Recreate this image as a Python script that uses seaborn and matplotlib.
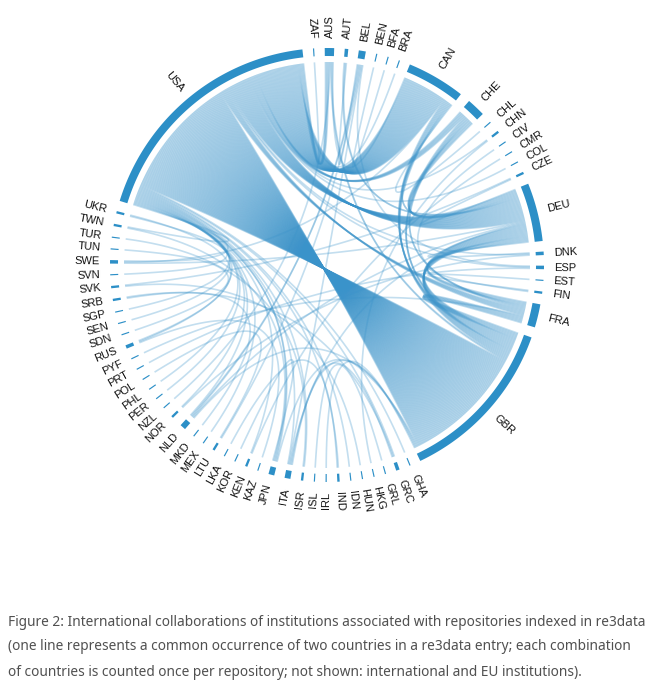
import numpy as np
import matplotlib
matplotlib.use("Agg")
import matplotlib.pyplot as plt
from matplotlib.collections import LineCollection
import seaborn as sns

# countries in drawing order (clockwise, starting near the top)
countries = ["AUS", "AUT", "BEL", "BEN", "BFA", "BRA", "CAN", "CHE", "CHL", "CHN", "CIV", "CMR",
             "COL", "CZE", "DEU", "DNK", "ESP", "EST", "FIN", "FRA", "GBR", "GHA", "GRC", "GRL",
             "HKG", "HUN", "IDN", "IND", "IRL", "ISL", "ISR", "ITA", "JPN", "KAZ", "KEN", "KOR",
             "LKA", "LTU", "MEX", "MKD", "NLD", "NOR", "NZL", "PER", "PHL", "POL", "PRT", "PYF",
             "RUS", "SDN", "SEN", "SGP", "SRB", "SVK", "SVN", "SWE", "TUN", "TUR", "TWN", "UKR",
             "USA", "ZAF"]

# co-occurrence counts
usa_to = ["GBR", "CAN", "DEU", "CHE", "FRA", "AUS", "JPN", "ITA", "NLD", "ISR", "IND", "KEN",
          "MEX", "BRA", "CHN", "TWN", "RUS", "ZAF", "SWE", "NOR", "GRC", "ESP", "DNK", "PER",
          "COL", "SEN", "GHA", "PHL", "IDN", "SGP"]
usa_n = [112, 39, 20, 6, 6, 4, 2] + [1] * 23

gbr_to = ["DEU", "FRA", "CAN", "CHE", "AUS", "ITA", "NLD", "JPN", "IRL"]
gbr_n = [11, 6, 6, 3, 2, 1, 1, 1, 1]

other_a = ["CAN", "CAN", "CAN", "CAN", "DEU", "DEU", "DEU", "DEU", "DEU", "DEU", "DEU", "DEU",
           "DEU", "FRA", "FRA", "FRA", "AUS", "BEL", "BEL", "BEL", "BEL", "BEL", "BEN", "CHN",
           "CMR", "CZE", "DNK", "ESP", "EST", "GRC", "GRC", "GRL", "HUN", "IND", "ISR", "JPN",
           "JPN", "KAZ", "LTU", "MKD", "RUS", "SDN", "SVN"]
other_b = ["DEU", "AUS", "CHL", "SWE", "CHE", "FRA", "AUT", "NLD", "ITA", "DNK", "SWE", "FIN",
           "CZE", "CHE", "CIV", "PYF", "NZL", "NLD", "LTU", "ESP", "ITA", "AUT", "BFA", "HKG",
           "KEN", "SVK", "NOR", "PRT", "FIN", "ITA", "SRB", "ISL", "SVK", "LKA", "TUR", "KOR",
           "TWN", "RUS", "POL", "SRB", "UKR", "TUN", "UKR"]
other_n = [2, 1, 1, 1, 5, 4, 2, 1, 1, 1, 1, 1,
           1, 2, 1, 1, 1, 2, 1, 1, 1, 1, 1, 1,
           1, 1, 1, 1, 1, 1, 1, 1, 1, 1, 1, 1,
           1, 1, 1, 1, 1, 1, 1]

link_a = ["USA"] * len(usa_to) + ["GBR"] * len(gbr_to) + other_a
link_b = usa_to + gbr_to + other_b
link_n = usa_n + gbr_n + other_n

sns.set_theme(style="white")
plt.rcParams["font.family"] = ["Liberation Sans", "DejaVu Sans"]

ring_col = "#2c8fc7"
line_col = "#3a93ca"

n = len(countries)
idx = {c: i for i, c in enumerate(countries)}
links = [(idx[a], idx[b], w) for a, b, w in zip(link_a, link_b, link_n)]
deg = np.zeros(n)
for i, j, w in links:
    deg[i] += w
    deg[j] += w

gap = 2.8
unit = (360 - n * gap) / deg.sum()
start = np.zeros(n)
a = -0.6
for i in range(n):
    start[i] = a
    a += deg[i] * unit + gap

# slots inside every sector, sorted by where the partner sits
slot_pos = {}
for i in range(n):
    mine = [(k, j, w) for k, (p, q, w) in enumerate(links) for j in ([q] if p == i else [p] if q == i else [])]
    mine.sort(key=lambda t: -((t[1] - i) % n))
    pos = 0
    for k, j, w in mine:
        slot_pos[(k, i)] = pos
        pos += w

cx, cy = 327, 265
r_chord, r_in, r_out, r_lab = 203, 209, 217, 227


def xy(theta, r):
    t = np.radians(theta)
    return cx + r * np.sin(t), cy - r * np.cos(t)


fig = plt.figure(figsize=(6.56, 6.8), dpi=100)
ax = fig.add_axes([0, 0, 1, 1])
ax.set_xlim(0, 656)
ax.set_ylim(680, 0)
ax.axis("off")

# one line per co-occurrence, k-th slot to k-th slot (gives the twisted ribbons)
tt = np.linspace(0, 1, 60)[:, None]
segs = []
for k, (i, j, w) in enumerate(links):
    pi, pj = slot_pos[(k, i)], slot_pos[(k, j)]
    for m in range(w):
        ta = start[i] + (pi + m + 0.5) * unit
        tb = start[j] + (pj + m + 0.5) * unit
        p0 = np.array(xy(ta, r_chord))
        p2 = np.array(xy(tb, r_chord))
        c = np.array([cx, cy])
        curve = (1 - tt) ** 2 * p0 + 2 * tt * (1 - tt) * c + tt ** 2 * p2
        segs.append(curve)

lc = LineCollection(segs, colors=line_col, linewidths=1.2, alpha=0.3, capstyle="butt")
ax.add_collection(lc)

for i, name in enumerate(countries):
    t0, t1 = start[i], start[i] + deg[i] * unit
    th = np.linspace(t0, t1, max(4, int(deg[i] * 3)))
    xo, yo = xy(th, r_out)
    xi, yi = xy(th[::-1], r_in)
    ax.fill(np.r_[xo, xi], np.r_[yo, yi], color=ring_col, lw=0)

    mid = (t0 + t1) / 2 % 360
    lx, ly = xy(mid, r_lab)
    if mid < 180:
        rot, ha = 90 - mid, "left"
    else:
        rot, ha = 270 - mid, "right"
    ax.text(lx, ly, name, rotation=rot, ha=ha, va="center", rotation_mode="anchor",
            fontsize=8, color="#111111")

caption = ["Figure 2: International collaborations of institutions associated with repositories indexed in re3data",
           "(one line represents a common occurrence of two countries in a re3data entry; each combination",
           "of countries is counted once per repository; not shown: international and EU institutions)."]
for k, line in enumerate(caption):
    fig.text(8 / 656, 1 - (622 + 25 * k) / 680, line, ha="left", va="center",
             fontsize=9.85, color="#505050", family=["Noto Sans", "DejaVu Sans"])

fig.savefig("out.png", dpi=100)
